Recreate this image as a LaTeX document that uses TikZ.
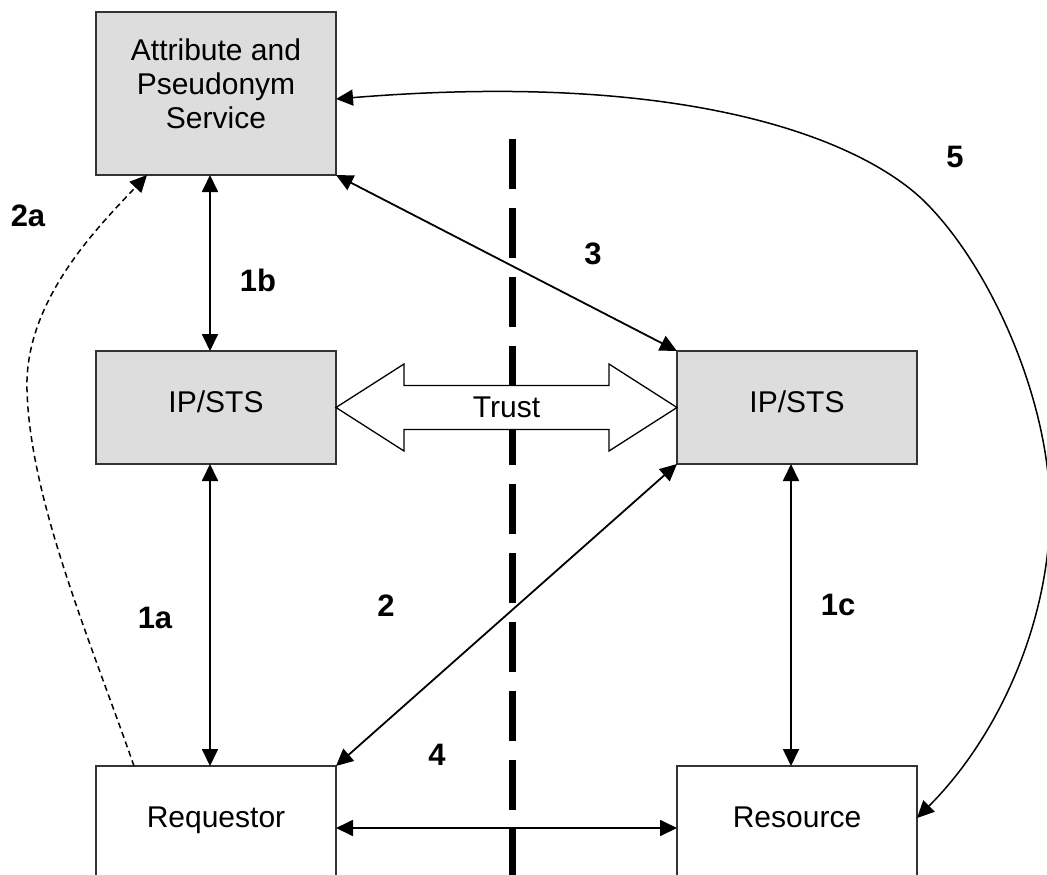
\documentclass[tikz,border=0pt]{standalone}
\usepackage{fontspec}
\setmainfont{Liberation Sans}
\usetikzlibrary{arrows.meta,calc}
\definecolor{boxgray}{HTML}{DDDDDD}
\definecolor{edgegray}{HTML}{333333}
\begin{document}
\begin{tikzpicture}[x=1pt,y=-1pt,
  >={Triangle[length=17pt,width=16pt]},
  box/.style={draw=edgegray, line width=1.3pt, inner sep=0pt, outer sep=0pt,
    minimum width=240pt, minimum height=113pt,
    font=\fontsize{30}{34}\selectfont, text height=21pt, text depth=12pt},
  shaded/.style={box, fill=boxgray},
  plain/.style={box, fill=white},
  boxtext/.style={font=\fontsize{30}{34}\selectfont, align=center, inner sep=0pt},
  link/.style={line width=1.8pt, <->},
  curvelink/.style={line width=1.5pt},
  num/.style={font=\fontsize{31}{36}\selectfont\bfseries, inner sep=0pt},
  divider/.style={line width=7pt, dash pattern=on 50pt off 19pt},
  trustarrow/.style={draw=black, fill=white, line width=1.3pt, line join=miter},
]
\useasboundingbox (0,0) rectangle (1047,875);
\clip (0,0) rectangle (1047,875);

% trust boundary between the two domains
\coordinate (divtop) at (512,139);
\coordinate (divbot) at (512,885);
\draw[divider] (divtop) -- (divbot);

% services
\node[shaded, minimum height=163pt, text height=0pt, text depth=0pt,
  label={[boxtext, yshift=9.5pt, name=apstext]center:Attribute and\\Pseudonym\\Service}]
  (aps) at (216,93.5) {};
\node[shaded] (ipL) at (216,407.5) {IP/STS};
\node[shaded] (ipR) at (797,407.5) {IP/STS};
\node[plain] (req) at (216,822.5) {Requestor};
\node[plain] (res) at (797,822.5) {Resource};

% trust relationship between the two IP/STS
\draw[trustarrow] (ipL.east) -- ++(68,-43.5) -- ++(0,21.5)
  -- ($(ipR.west)+(-68,-22)$) -- ++(0,-21.5) -- (ipR.west)
  -- ++(-68,43.5) -- ++(0,-21.5) -- ($(ipL.east)+(68,22)$)
  -- ++(0,21.5) -- cycle;
\node[boxtext] (trust) at ($(ipL.east)!0.5!(ipR.west)$) {Trust};

% message flows
\draw[link] ([xshift=-6pt]aps.south) -- ([xshift=-6pt]ipL.north);
\draw[link] ([xshift=-6pt]ipL.south) -- ([xshift=-6pt]req.north);
\draw[link] ([xshift=-6pt]ipR.south) -- ([xshift=-6pt]res.north);
\draw[link] ([yshift=-5.5pt]req.east) -- ([yshift=-5.5pt]res.west);
\draw[link] (aps.south east) -- (ipR.north west);
\draw[link] (ipR.south west) -- (req.north east);

% optional direct request to the attribute service
\coordinate (bend2a) at (27,390);
\draw[curvelink, dash pattern=on 6pt off 4pt, ->]
  ([xshift=-82pt]req.north) .. controls (90,640) and (30,500) .. (bend2a)
  .. controls (24,300) and (100,225) .. ([xshift=-69pt]aps.south);

% resource back to the attribute service
\coordinate (far5) at (1050,510);
\coordinate (turn5) at (923,200);
\draw[curvelink, <->]
  ([yshift=4.5pt]res.east) .. controls (1000,735) and (1050,620) .. (far5)
  .. controls (1050,400) and (990,265) .. (turn5)
  .. controls (860,140) and (690,70) .. ([yshift=-5.5pt]aps.east);

% step labels
\node[num] (l2a) at (28,216) {2a};
\node[num] (l1b) at (258,280) {1b};
\node[num] (l3) at (593,254) {3};
\node[num] (l5) at (955,157) {5};
\node[num] (l1a) at (155,618) {1a};
\node[num] (l2) at (386,606) {2};
\node[num] (l1c) at (838,605) {1c};
\node[num] (l4) at (437,755) {4};
\end{tikzpicture}
\end{document}
